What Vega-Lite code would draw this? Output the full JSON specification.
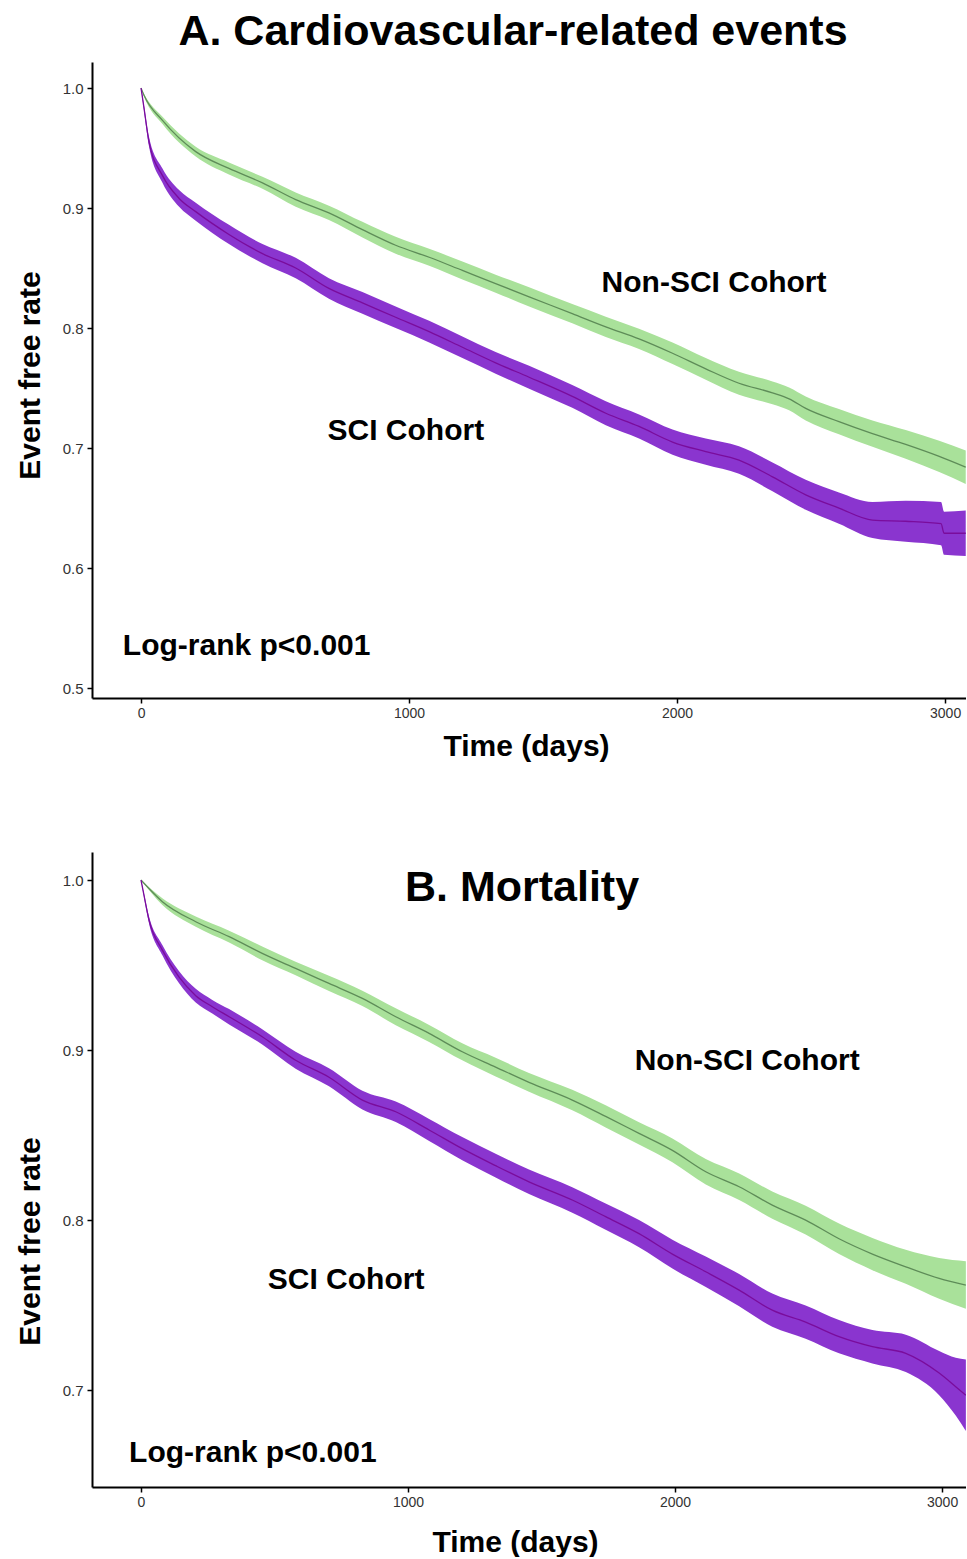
{
  "$schema": "https://vega.github.io/schema/vega-lite/v6.json",
  "background": "white",
  "padding": {"left": 15, "top": 11, "right": 0, "bottom": 0},
  "spacing": 91,
  "config": {
    "view": {"stroke": null},
    "font": "Liberation Sans",
    "axis": {
      "grid": false,
      "domainColor": "black",
      "domainWidth": 2,
      "tickColor": "black",
      "tickWidth": 1.5,
      "tickSize": 5,
      "labelColor": "#333333",
      "labelFont": "Liberation Sans",
      "titleFont": "Liberation Sans",
      "titleFontWeight": "bold",
      "titleColor": "black",
      "titleFontSize": 30
    },
    "title": {"font": "Liberation Sans", "fontWeight": "bold", "color": "black", "fontSize": 43, "anchor": "middle"}
  },
  "datasets": {
    "km": [
      {"panel": "A", "group": "Non-SCI", "t": 0, "est": 1.0, "lo": 1.0, "hi": 1.0},
      {"panel": "A", "group": "Non-SCI", "t": 11, "est": 0.994, "lo": 0.993, "hi": 0.995},
      {"panel": "A", "group": "Non-SCI", "t": 80, "est": 0.973, "lo": 0.970, "hi": 0.976},
      {"panel": "A", "group": "Non-SCI", "t": 204, "est": 0.947, "lo": 0.943, "hi": 0.951},
      {"panel": "A", "group": "Non-SCI", "t": 328, "est": 0.933, "lo": 0.928, "hi": 0.938},
      {"panel": "A", "group": "Non-SCI", "t": 453, "est": 0.921, "lo": 0.916, "hi": 0.926},
      {"panel": "A", "group": "Non-SCI", "t": 577, "est": 0.907, "lo": 0.901, "hi": 0.913},
      {"panel": "A", "group": "Non-SCI", "t": 701, "est": 0.896, "lo": 0.890, "hi": 0.902},
      {"panel": "A", "group": "Non-SCI", "t": 826, "est": 0.882, "lo": 0.8755, "hi": 0.8885},
      {"panel": "A", "group": "Non-SCI", "t": 950, "est": 0.869, "lo": 0.862, "hi": 0.876},
      {"panel": "A", "group": "Non-SCI", "t": 1075, "est": 0.859, "lo": 0.852, "hi": 0.866},
      {"panel": "A", "group": "Non-SCI", "t": 1199, "est": 0.848, "lo": 0.8405, "hi": 0.8555},
      {"panel": "A", "group": "Non-SCI", "t": 1323, "est": 0.837, "lo": 0.8295, "hi": 0.8445},
      {"panel": "A", "group": "Non-SCI", "t": 1448, "est": 0.826, "lo": 0.818, "hi": 0.834},
      {"panel": "A", "group": "Non-SCI", "t": 1609, "est": 0.812, "lo": 0.804, "hi": 0.820},
      {"panel": "A", "group": "Non-SCI", "t": 1734, "est": 0.801, "lo": 0.7925, "hi": 0.8095},
      {"panel": "A", "group": "Non-SCI", "t": 1858, "est": 0.791, "lo": 0.7825, "hi": 0.7995},
      {"panel": "A", "group": "Non-SCI", "t": 1983, "est": 0.779, "lo": 0.770, "hi": 0.788},
      {"panel": "A", "group": "Non-SCI", "t": 2107, "est": 0.766, "lo": 0.757, "hi": 0.775},
      {"panel": "A", "group": "Non-SCI", "t": 2231, "est": 0.754, "lo": 0.7445, "hi": 0.7635},
      {"panel": "A", "group": "Non-SCI", "t": 2356, "est": 0.746, "lo": 0.7365, "hi": 0.7555},
      {"panel": "A", "group": "Non-SCI", "t": 2418, "est": 0.741, "lo": 0.7315, "hi": 0.7505},
      {"panel": "A", "group": "Non-SCI", "t": 2480, "est": 0.733, "lo": 0.723, "hi": 0.743},
      {"panel": "A", "group": "Non-SCI", "t": 2604, "est": 0.722, "lo": 0.7115, "hi": 0.7325},
      {"panel": "A", "group": "Non-SCI", "t": 2729, "est": 0.712, "lo": 0.701, "hi": 0.723},
      {"panel": "A", "group": "Non-SCI", "t": 2853, "est": 0.703, "lo": 0.691, "hi": 0.715},
      {"panel": "A", "group": "Non-SCI", "t": 2978, "est": 0.693, "lo": 0.680, "hi": 0.706},
      {"panel": "A", "group": "Non-SCI", "t": 3077, "est": 0.684, "lo": 0.670, "hi": 0.698},

      {"panel": "A", "group": "SCI", "t": 0, "est": 1.0, "lo": 1.0, "hi": 1.0},
      {"panel": "A", "group": "SCI", "t": 10, "est": 0.985, "lo": 0.983, "hi": 0.987},
      {"panel": "A", "group": "SCI", "t": 30, "est": 0.955, "lo": 0.951, "hi": 0.959},
      {"panel": "A", "group": "SCI", "t": 80, "est": 0.927, "lo": 0.921, "hi": 0.933},
      {"panel": "A", "group": "SCI", "t": 142, "est": 0.908, "lo": 0.901, "hi": 0.915},
      {"panel": "A", "group": "SCI", "t": 204, "est": 0.897, "lo": 0.8895, "hi": 0.9045},
      {"panel": "A", "group": "SCI", "t": 328, "est": 0.878, "lo": 0.870, "hi": 0.886},
      {"panel": "A", "group": "SCI", "t": 453, "est": 0.862, "lo": 0.854, "hi": 0.870},
      {"panel": "A", "group": "SCI", "t": 577, "est": 0.850, "lo": 0.8415, "hi": 0.8585},
      {"panel": "A", "group": "SCI", "t": 701, "est": 0.833, "lo": 0.8245, "hi": 0.8415},
      {"panel": "A", "group": "SCI", "t": 826, "est": 0.821, "lo": 0.812, "hi": 0.830},
      {"panel": "A", "group": "SCI", "t": 950, "est": 0.809, "lo": 0.800, "hi": 0.818},
      {"panel": "A", "group": "SCI", "t": 1075, "est": 0.797, "lo": 0.788, "hi": 0.806},
      {"panel": "A", "group": "SCI", "t": 1199, "est": 0.784, "lo": 0.775, "hi": 0.793},
      {"panel": "A", "group": "SCI", "t": 1323, "est": 0.771, "lo": 0.762, "hi": 0.780},
      {"panel": "A", "group": "SCI", "t": 1448, "est": 0.759, "lo": 0.7495, "hi": 0.7685},
      {"panel": "A", "group": "SCI", "t": 1609, "est": 0.743, "lo": 0.7335, "hi": 0.7525},
      {"panel": "A", "group": "SCI", "t": 1734, "est": 0.729, "lo": 0.719, "hi": 0.739},
      {"panel": "A", "group": "SCI", "t": 1858, "est": 0.718, "lo": 0.708, "hi": 0.728},
      {"panel": "A", "group": "SCI", "t": 1983, "est": 0.705, "lo": 0.6945, "hi": 0.7155},
      {"panel": "A", "group": "SCI", "t": 2107, "est": 0.697, "lo": 0.686, "hi": 0.708},
      {"panel": "A", "group": "SCI", "t": 2231, "est": 0.690, "lo": 0.6785, "hi": 0.7015},
      {"panel": "A", "group": "SCI", "t": 2356, "est": 0.676, "lo": 0.664, "hi": 0.688},
      {"panel": "A", "group": "SCI", "t": 2480, "est": 0.661, "lo": 0.6485, "hi": 0.6735},
      {"panel": "A", "group": "SCI", "t": 2604, "est": 0.650, "lo": 0.637, "hi": 0.663},
      {"panel": "A", "group": "SCI", "t": 2729, "est": 0.640, "lo": 0.625, "hi": 0.655},
      {"panel": "A", "group": "SCI", "t": 2853, "est": 0.639, "lo": 0.622, "hi": 0.656},
      {"panel": "A", "group": "SCI", "t": 2985, "est": 0.637, "lo": 0.619, "hi": 0.655},
      {"panel": "A", "group": "SCI", "t": 2996, "est": 0.629, "lo": 0.611, "hi": 0.647},
      {"panel": "A", "group": "SCI", "t": 3077, "est": 0.629, "lo": 0.610, "hi": 0.648},

      {"panel": "B", "group": "Non-SCI", "t": 0, "est": 1.0, "lo": 1.0, "hi": 1.0},
      {"panel": "B", "group": "Non-SCI", "t": 80, "est": 0.9873, "lo": 0.9853, "hi": 0.9893},
      {"panel": "B", "group": "Non-SCI", "t": 205, "est": 0.9755, "lo": 0.9725, "hi": 0.9785},
      {"panel": "B", "group": "Non-SCI", "t": 330, "est": 0.9667, "lo": 0.9632, "hi": 0.9702},
      {"panel": "B", "group": "Non-SCI", "t": 454, "est": 0.9569, "lo": 0.9529, "hi": 0.9609},
      {"panel": "B", "group": "Non-SCI", "t": 579, "est": 0.948, "lo": 0.944, "hi": 0.952},
      {"panel": "B", "group": "Non-SCI", "t": 704, "est": 0.9392, "lo": 0.9347, "hi": 0.9437},
      {"panel": "B", "group": "Non-SCI", "t": 829, "est": 0.9304, "lo": 0.9259, "hi": 0.9349},
      {"panel": "B", "group": "Non-SCI", "t": 954, "est": 0.9196, "lo": 0.9146, "hi": 0.9246},
      {"panel": "B", "group": "Non-SCI", "t": 1079, "est": 0.9098, "lo": 0.9048, "hi": 0.9148},
      {"panel": "B", "group": "Non-SCI", "t": 1203, "est": 0.899, "lo": 0.894, "hi": 0.904},
      {"panel": "B", "group": "Non-SCI", "t": 1328, "est": 0.890, "lo": 0.8845, "hi": 0.8955},
      {"panel": "B", "group": "Non-SCI", "t": 1453, "est": 0.881, "lo": 0.8755, "hi": 0.8865},
      {"panel": "B", "group": "Non-SCI", "t": 1615, "est": 0.8706, "lo": 0.8646, "hi": 0.8766},
      {"panel": "B", "group": "Non-SCI", "t": 1740, "est": 0.861, "lo": 0.8545, "hi": 0.8675},
      {"panel": "B", "group": "Non-SCI", "t": 1865, "est": 0.851, "lo": 0.8445, "hi": 0.8575},
      {"panel": "B", "group": "Non-SCI", "t": 1990, "est": 0.841, "lo": 0.834, "hi": 0.848},
      {"panel": "B", "group": "Non-SCI", "t": 2115, "est": 0.8284, "lo": 0.8209, "hi": 0.8359},
      {"panel": "B", "group": "Non-SCI", "t": 2240, "est": 0.8196, "lo": 0.8118, "hi": 0.8274},
      {"panel": "B", "group": "Non-SCI", "t": 2364, "est": 0.8088, "lo": 0.8008, "hi": 0.8168},
      {"panel": "B", "group": "Non-SCI", "t": 2489, "est": 0.800, "lo": 0.7915, "hi": 0.8085},
      {"panel": "B", "group": "Non-SCI", "t": 2614, "est": 0.789, "lo": 0.780, "hi": 0.798},
      {"panel": "B", "group": "Non-SCI", "t": 2739, "est": 0.780, "lo": 0.7705, "hi": 0.7895},
      {"panel": "B", "group": "Non-SCI", "t": 2864, "est": 0.7725, "lo": 0.7625, "hi": 0.7825},
      {"panel": "B", "group": "Non-SCI", "t": 2989, "est": 0.7657, "lo": 0.7537, "hi": 0.7777},
      {"panel": "B", "group": "Non-SCI", "t": 3089, "est": 0.7618, "lo": 0.7478, "hi": 0.7758},

      {"panel": "B", "group": "SCI", "t": 0, "est": 1.0, "lo": 1.0, "hi": 1.0},
      {"panel": "B", "group": "SCI", "t": 10, "est": 0.992, "lo": 0.991, "hi": 0.993},
      {"panel": "B", "group": "SCI", "t": 30, "est": 0.9765, "lo": 0.9745, "hi": 0.9785},
      {"panel": "B", "group": "SCI", "t": 80, "est": 0.9588, "lo": 0.9558, "hi": 0.9618},
      {"panel": "B", "group": "SCI", "t": 142, "est": 0.943, "lo": 0.9395, "hi": 0.9465},
      {"panel": "B", "group": "SCI", "t": 205, "est": 0.932, "lo": 0.928, "hi": 0.936},
      {"panel": "B", "group": "SCI", "t": 267, "est": 0.9255, "lo": 0.9215, "hi": 0.9295},
      {"panel": "B", "group": "SCI", "t": 330, "est": 0.9196, "lo": 0.9151, "hi": 0.9241},
      {"panel": "B", "group": "SCI", "t": 454, "est": 0.9078, "lo": 0.9033, "hi": 0.9123},
      {"panel": "B", "group": "SCI", "t": 579, "est": 0.894, "lo": 0.889, "hi": 0.899},
      {"panel": "B", "group": "SCI", "t": 704, "est": 0.884, "lo": 0.8787, "hi": 0.8893},
      {"panel": "B", "group": "SCI", "t": 829, "est": 0.8706, "lo": 0.8651, "hi": 0.8761},
      {"panel": "B", "group": "SCI", "t": 954, "est": 0.8637, "lo": 0.8577, "hi": 0.8697},
      {"panel": "B", "group": "SCI", "t": 1079, "est": 0.853, "lo": 0.8465, "hi": 0.8595},
      {"panel": "B", "group": "SCI", "t": 1203, "est": 0.842, "lo": 0.8352, "hi": 0.8488},
      {"panel": "B", "group": "SCI", "t": 1328, "est": 0.832, "lo": 0.825, "hi": 0.839},
      {"panel": "B", "group": "SCI", "t": 1453, "est": 0.8225, "lo": 0.8153, "hi": 0.8297},
      {"panel": "B", "group": "SCI", "t": 1615, "est": 0.8118, "lo": 0.8043, "hi": 0.8193},
      {"panel": "B", "group": "SCI", "t": 1740, "est": 0.802, "lo": 0.7943, "hi": 0.8097},
      {"panel": "B", "group": "SCI", "t": 1865, "est": 0.792, "lo": 0.784, "hi": 0.800},
      {"panel": "B", "group": "SCI", "t": 1990, "est": 0.780, "lo": 0.7715, "hi": 0.7885},
      {"panel": "B", "group": "SCI", "t": 2115, "est": 0.7696, "lo": 0.7606, "hi": 0.7786},
      {"panel": "B", "group": "SCI", "t": 2240, "est": 0.7588, "lo": 0.7493, "hi": 0.7683},
      {"panel": "B", "group": "SCI", "t": 2364, "est": 0.747, "lo": 0.7372, "hi": 0.7568},
      {"panel": "B", "group": "SCI", "t": 2489, "est": 0.740, "lo": 0.7302, "hi": 0.7498},
      {"panel": "B", "group": "SCI", "t": 2614, "est": 0.7314, "lo": 0.7216, "hi": 0.7412},
      {"panel": "B", "group": "SCI", "t": 2739, "est": 0.7255, "lo": 0.7157, "hi": 0.7353},
      {"panel": "B", "group": "SCI", "t": 2864, "est": 0.7216, "lo": 0.7106, "hi": 0.7326},
      {"panel": "B", "group": "SCI", "t": 2989, "est": 0.710, "lo": 0.697, "hi": 0.723},
      {"panel": "B", "group": "SCI", "t": 3051, "est": 0.702, "lo": 0.685, "hi": 0.719},
      {"panel": "B", "group": "SCI", "t": 3089, "est": 0.697, "lo": 0.676, "hi": 0.718}
    ],
    "labels": [
      {"panel": "A", "t": 2138, "v": 0.8375, "label": "Non-SCI Cohort"},
      {"panel": "A", "t": 988, "v": 0.7145, "label": "SCI Cohort"},
      {"panel": "A", "t": 394, "v": 0.5347, "label": "Log-rank p<0.001"},
      {"panel": "B", "t": 2270, "v": 0.8936, "label": "Non-SCI Cohort"},
      {"panel": "B", "t": 768, "v": 0.765, "label": "SCI Cohort"},
      {"panel": "B", "t": 419, "v": 0.663, "label": "Log-rank p<0.001"}
    ]
  },
  "vconcat": [
    {
      "width": 874,
      "height": 636,
      "title": {"text": "A. Cardiovascular-related events", "offset": 8, "dx": -16},
      "encoding": {
        "x": {
          "field": "t", "type": "quantitative",
          "scale": {"domain": [-183, 3078], "nice": false, "zero": false},
          "axis": {"title": "Time (days)", "values": [0, 1000, 2000, 3000], "format": "d", "labelFontSize": 14, "labelPadding": 3, "titlePadding": 11, "titleX": 434}
        }
      },
      "layer": [
        {
          "data": {"name": "km"},
          "transform": [{"filter": "datum.panel === 'A'"}],
          "mark": {"type": "area", "clip": true, "interpolate": "monotone"},
          "encoding": {
            "y": {"field": "lo", "type": "quantitative",
              "scale": {"domain": [0.4917, 1.0217], "nice": false, "zero": false},
              "axis": {"title": "Event free rate", "values": [0.5, 0.6, 0.7, 0.8, 0.9, 1.0], "format": ".1f", "labelFontSize": 15, "labelPadding": 4, "titlePadding": 17, "titleY": 313}},
            "y2": {"field": "hi"},
            "fill": {"field": "group", "type": "nominal", "scale": {"domain": ["Non-SCI", "SCI"], "range": ["#a9e19a", "#8a35cf"]}, "legend": null}
          }
        },
        {
          "data": {"name": "km"},
          "transform": [{"filter": "datum.panel === 'A'"}],
          "mark": {"type": "line", "clip": true, "strokeWidth": 1.3, "interpolate": "monotone"},
          "encoding": {
            "y": {"field": "est", "type": "quantitative"},
            "stroke": {"field": "group", "type": "nominal", "scale": {"domain": ["Non-SCI", "SCI"], "range": ["#5e8c58", "#7a0c9c"]}, "legend": null}
          }
        },
        {
          "data": {"name": "labels"},
          "transform": [{"filter": "datum.panel === 'A'"}],
          "mark": {"type": "text", "font": "Liberation Sans", "fontWeight": "bold", "fontSize": 30, "align": "center", "baseline": "middle", "color": "black"},
          "encoding": {
            "y": {"field": "v", "type": "quantitative"},
            "text": {"field": "label"}
          }
        }
      ]
    },
    {
      "width": 874,
      "height": 635,
      "title": {"text": "B. Mortality", "offset": -58, "dx": -7},
      "encoding": {
        "x": {
          "field": "t", "type": "quantitative",
          "scale": {"domain": [-183.5, 3089.5], "nice": false, "zero": false},
          "axis": {"title": "Time (days)", "values": [0, 1000, 2000, 3000], "format": "d", "labelFontSize": 14, "labelPadding": 3, "titlePadding": 18, "titleX": 423}
        }
      },
      "layer": [
        {
          "data": {"name": "km"},
          "transform": [{"filter": "datum.panel === 'B'"}],
          "mark": {"type": "area", "clip": true, "interpolate": "monotone"},
          "encoding": {
            "y": {"field": "lo", "type": "quantitative",
              "scale": {"domain": [0.643, 1.0165], "nice": false, "zero": false},
              "axis": {"title": "Event free rate", "values": [0.7, 0.8, 0.9, 1.0], "format": ".1f", "labelFontSize": 15, "labelPadding": 4, "titlePadding": 17, "titleY": 389}},
            "y2": {"field": "hi"},
            "fill": {"field": "group", "type": "nominal", "scale": {"domain": ["Non-SCI", "SCI"], "range": ["#a9e19a", "#8a35cf"]}, "legend": null}
          }
        },
        {
          "data": {"name": "km"},
          "transform": [{"filter": "datum.panel === 'B'"}],
          "mark": {"type": "line", "clip": true, "strokeWidth": 1.3, "interpolate": "monotone"},
          "encoding": {
            "y": {"field": "est", "type": "quantitative"},
            "stroke": {"field": "group", "type": "nominal", "scale": {"domain": ["Non-SCI", "SCI"], "range": ["#5e8c58", "#7a0c9c"]}, "legend": null}
          }
        },
        {
          "data": {"name": "labels"},
          "transform": [{"filter": "datum.panel === 'B'"}],
          "mark": {"type": "text", "font": "Liberation Sans", "fontWeight": "bold", "fontSize": 30, "align": "center", "baseline": "middle", "color": "black"},
          "encoding": {
            "y": {"field": "v", "type": "quantitative"},
            "text": {"field": "label"}
          }
        }
      ]
    }
  ]
}
